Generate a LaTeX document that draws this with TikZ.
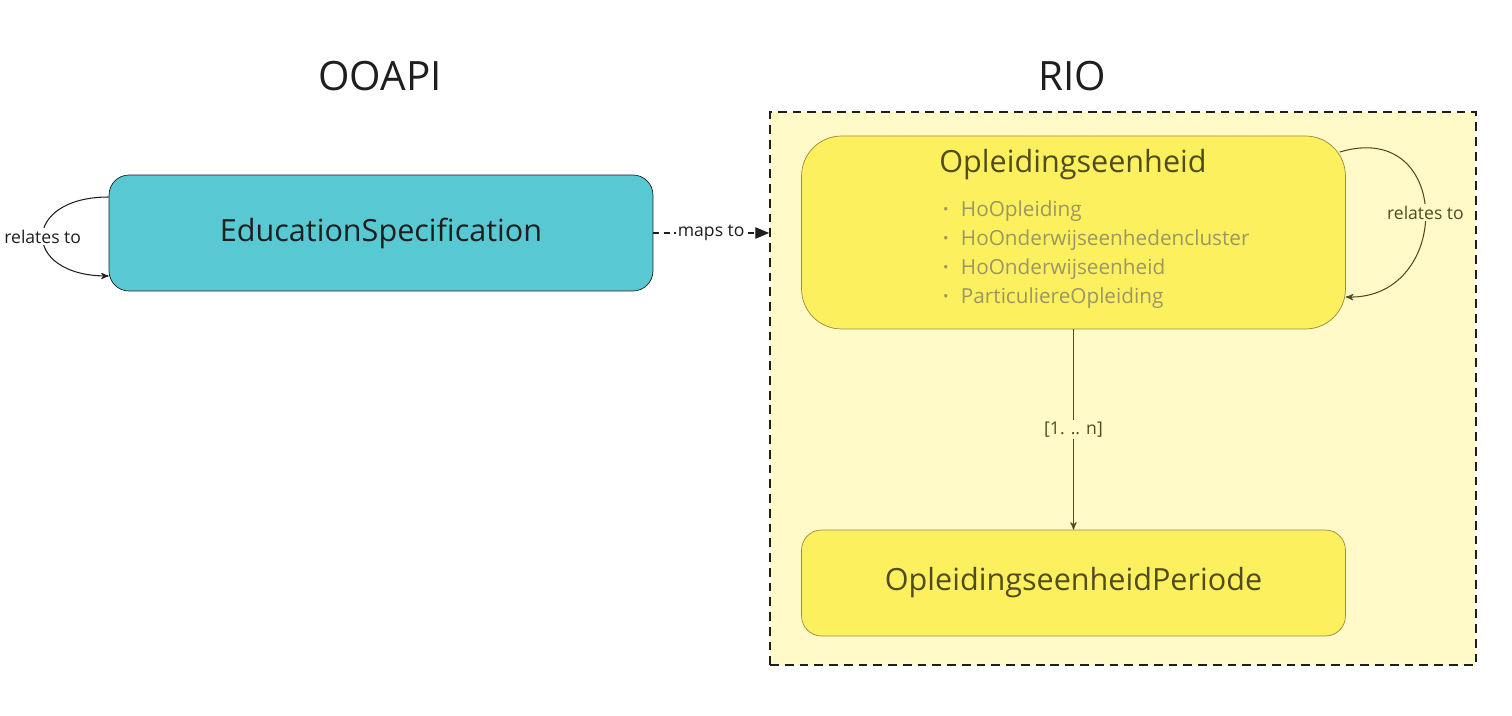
\documentclass[tikz,border=0pt]{standalone}
\usepackage{fontspec}
\setmainfont{Open Sans}
\usepackage{xcolor}
\usetikzlibrary{arrows}
\usetikzlibrary{positioning}
\definecolor{ooteal}{RGB}{88,201,211}
\definecolor{rioyellow}{RGB}{253,240,95}
\definecolor{riopale}{RGB}{255,250,200}
\definecolor{olive}{RGB}{80,76,30}
\definecolor{oliveline}{RGB}{150,140,60}
\definecolor{listgray}{RGB}{155,150,100}
\definecolor{inkdark}{RGB}{30,30,30}
\tikzset{
	title/.style={font=\fontsize{23}{27}\selectfont,text=inkdark},
	main node/.style={rounded corners=0.4cm,draw=inkdark,line width=0.4pt,minimum width=10.88cm,font=\fontsize{17.4}{21}\selectfont},
	yellow node/.style={main node,fill=rioyellow,draw=oliveline,text=olive},
	listitem/.style={inner sep=0pt,text width=8cm,align=left,text=listgray,font=\fontsize{11.8}{14}\selectfont},
	label/.style={font=\fontsize{10}{12}\selectfont,inner sep=1pt}
}
\newcommand{\bul}{\makebox[10.2pt][l]{\raisebox{0.2ex}{\scalebox{0.7}{\textbullet}}}}

\begin{document}
\begin{tikzpicture}[->,>=stealth',x=0.02cm,y=-0.02cm,node distance=0.58cm]
	\useasboundingbox[fill=white] (0,0) rectangle (1512,716);
	\node[title] (1) at (380,76)   {OOAPI};
	\node[title] (2) at (1072,76)  {RIO};
	\node[main node,fill=ooteal,minimum height=2.32cm,text=inkdark] (3) at (381,233) {EducationSpecification};
	\node[draw=inkdark,fill=riopale,dashed,dash pattern=on 5pt off 3.4pt,line width=1.1pt,minimum width=14.12cm,minimum height=11.06cm] (4) at (1123,388.5) {};
	\node[yellow node,rounded corners=0.8cm,minimum height=3.86cm] (5) at (1073.5,232.5) {};
	\node[yellow node,draw=none,fill=none,minimum width=0pt] (6) at (1073,165) {Opleidingseenheid};
	\node[listitem] (7) at (1143,212)  {\bul\strut HoOpleiding};
	\node[listitem] (8) [below of=7]   {\bul\strut HoOnderwijseenhedencluster};
	\node[listitem] (9) [below of=8]   {\bul\strut HoOnderwijseenheid};
	\node[listitem] (10) [below of=9]  {\bul\strut ParticuliereOpleiding};
	\node[yellow node,minimum height=2.12cm] (11) at (1073.5,583) {OpleidingseenheidPeriode};

	\draw[line width=0.6pt,color=inkdark] ([yshift=0.72cm]3.west) .. controls +(-88,0) and +(-88,0) .. node[label,fill=white,text=inkdark] {relates to} ([yshift=-0.86cm]3.west);
	\draw[line width=0.8pt,color=inkdark,dash pattern=on 3.5pt off 2.5pt,-triangle 45] (3.east) -- node[label,fill=white,text=inkdark] {maps to} (3.east -| 4.west);
	\draw[line width=0.6pt,color=olive] ([xshift=-0.12cm,yshift=1.61cm]5.east) .. controls (1453,118) and (1453,300) .. node[label,fill=riopale,text=olive] {relates to} ([yshift=-1.29cm]5.east);
	\draw[line width=0.6pt,color=olive] (5.south) -- node[label,fill=riopale,text=olive] {[1. .. n]} (11.north);
\end{tikzpicture}
\end{document}
